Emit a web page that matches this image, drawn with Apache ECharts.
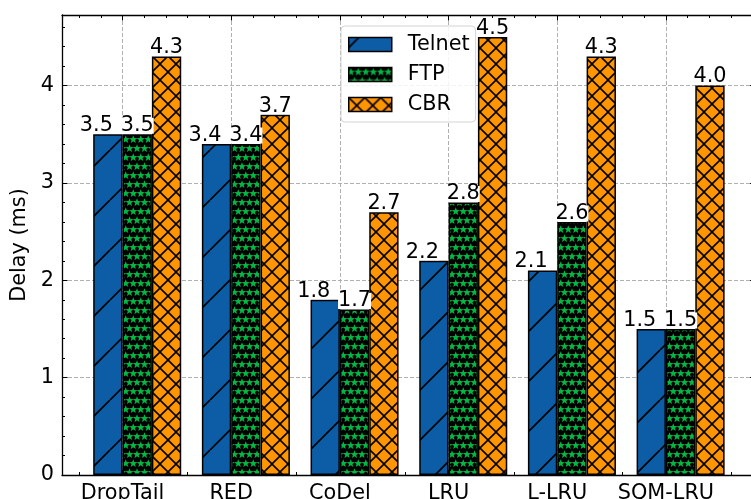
<!DOCTYPE html>
<html>
<head>
<meta charset="utf-8">
<script src="https://cdn.jsdelivr.net/npm/echarts@6/dist/echarts.min.js"></script>
<style>
  html, body { margin: 0; padding: 0; background: #ffffff; }
  #chart { width: 751px; height: 499px; }
</style>
</head>
<body>
<div id="chart"></div>
<script>
// Queue disciplines on the x axis and mean delay per traffic type (ms)
const categories = ['DropTail', 'RED', 'CoDel', 'LRU', 'L-LRU', 'SQM-LRU'];
const seriesNames = ['Telnet', 'FTP', 'CBR'];
const telnet = [3.5, 3.4, 1.8, 2.2, 2.1, 1.5];
const ftp    = [3.5, 3.4, 1.7, 2.8, 2.6, 1.5];
const cbr    = [4.3, 3.7, 2.7, 4.5, 4.3, 4.0];
const yTicks = [0, 1, 2, 3, 4];

const FONT = 'DejaVu Sans';
const FS = 20.8;

// ---- hatch fills built on small canvases --------------------------------
function tile(w, h, draw) {
  const c = document.createElement('canvas');
  c.width = w; c.height = h;
  draw(c.getContext('2d'), w, h);
  return c;
}
// single forward diagonal
const hatchSlash = tile(50, 50, (g, w, h) => {
  g.fillStyle = '#0C5DA5'; g.fillRect(0, 0, w, h);
  g.strokeStyle = '#000'; g.lineWidth = 1.7;
  [10, 60, 110].forEach(c => { g.beginPath(); g.moveTo(c, 0); g.lineTo(c - 50, 50); g.stroke(); });
});
// cross hatch
const hatchCross = tile(16, 16, (g, w, h) => {
  g.fillStyle = '#FF9500'; g.fillRect(0, 0, w, h);
  g.strokeStyle = '#000'; g.lineWidth = 1.6;
  for (let k = -1; k <= 1; k++) {
    g.beginPath(); g.moveTo(k * w, 0); g.lineTo(k * w + w, h); g.stroke();
    g.beginPath(); g.moveTo(k * w + w, 0); g.lineTo(k * w, h); g.stroke();
  }
});
// star field
function star(g, cx, cy, R, r) {
  g.beginPath();
  for (let i = 0; i < 10; i++) {
    const a = -Math.PI / 2 + i * Math.PI / 5;
    const rad = i % 2 ? r : R;
    const x = cx + rad * Math.cos(a), y = cy + rad * Math.sin(a);
    i ? g.lineTo(x, y) : g.moveTo(x, y);
  }
  g.closePath(); g.fill();
}
const hatchStar = tile(15, 18, (g, w, h) => {
  g.fillStyle = '#000'; g.fillRect(0, 0, w, h);
  g.fillStyle = '#00B945';
  for (let row = -1; row <= 2; row++) {
    const y = row * 9 + 4.5;
    const off = (row % 2 === 0) ? 0 : 3.75;
    for (let col = -1; col <= 2; col++) {
      star(g, col * 7.5 + off + 2, y, 4.3, 1.8);
    }
  }
});
const fills = [hatchSlash, hatchStar, hatchCross];

// ---- tick positions ------------------------------------------------------
const xMajor = categories.map((_, i) => i);
const xMinor = [];
for (let k = -2; k <= 29; k++) xMinor.push(+(k * 0.2).toFixed(1));
const yMinor = [];
for (let k = 0; k <= 23; k++) yMinor.push(+(k * 0.2).toFixed(1));

const X_MIN = -0.557, X_MAX = 5.825, Y_MAX = 4.725;
const tickLine = { color: '#000', width: 1 };
const gridLine = { show: true, lineStyle: { color: '#b0b0b0', width: 1, type: [4, 2] } };

function xAxisDef(pos, values, len, withLabel, withLine, withSplit) {
  return {
    type: 'value', position: pos, min: X_MIN, max: X_MAX,
    axisLine: { show: withLine, onZero: false, lineStyle: { color: '#000', width: 1.3 } },
    axisTick: { show: true, inside: true, length: len, customValues: values, lineStyle: tickLine },
    axisLabel: withLabel ? {
      show: true, customValues: xMajor, margin: 8, color: '#000',
      fontFamily: FONT, fontSize: FS, formatter: v => categories[Math.round(v)]
    } : { show: false },
    splitLine: withSplit ? gridLine : { show: false }
  };
}
function yAxisDef(pos, values, len, withLabel, withLine, withSplit) {
  return {
    type: 'value', position: pos, min: 0, max: Y_MAX,
    axisLine: { show: withLine, onZero: false, lineStyle: { color: '#000', width: 1.3 } },
    axisTick: { show: true, inside: true, length: len, customValues: values, lineStyle: tickLine },
    axisLabel: withLabel ? {
      show: true, customValues: yTicks, margin: 8, color: '#000',
      fontFamily: FONT, fontSize: FS, formatter: v => String(v)
    } : { show: false },
    splitLine: withSplit ? gridLine : { show: false }
  };
}

const yMain = yAxisDef('left', yTicks, 5.5, true, true, true);
yMain.name = 'Delay (ms)';
yMain.nameLocation = 'middle';
yMain.nameGap = 20;
yMain.nameTextStyle = { fontFamily: FONT, fontSize: FS, color: '#000' };

function valueLabel(shiftLeft) {
  const l = {
    show: true, position: 'top', distance: 0.5,
    fontFamily: FONT, fontSize: FS, color: '#000', lineHeight: 16,
    backgroundColor: '#ffffff', padding: [0, 0, 0, 0],
    formatter: p => p.value[1].toFixed(1)
  };
  if (shiftLeft) l.offset = [-11.5, 0];
  return l;
}

function barSeries(name, values, idx) {
  return {
    name, type: 'bar', xAxisIndex: 0, yAxisIndex: 0,
    barWidth: '27%', barGap: '0%',
    data: values.map((v, i) => [i, v]),
    itemStyle: { color: { image: fills[idx], repeat: 'repeat' }, borderColor: '#000', borderWidth: 1.5 },
    label: valueLabel(idx === 0),
    emphasis: { disabled: true }
  };
}

const chart = echarts.init(document.getElementById('chart'), null, { renderer: 'canvas' });
chart.setOption({
  animation: false,
  backgroundColor: '#ffffff',
  textStyle: { fontFamily: FONT },
  grid: { left: 62, top: 15, width: 693.6, height: 460, containLabel: false, outerBoundsMode: 'none' },
  legend: {
    data: seriesNames, orient: 'vertical', left: 341, top: 26,
    icon: 'rect', itemWidth: 43, itemHeight: 14, itemGap: 9,
    padding: [8, 6, 7, 7],
    backgroundColor: 'rgba(255,255,255,0.85)', borderColor: '#d4d4d4', borderWidth: 1, borderRadius: 4,
    textStyle: { fontFamily: FONT, fontSize: FS, color: '#000', padding: [0, 0, 0, 11] },
    itemStyle: { borderColor: '#000', borderWidth: 1.5 },
    selectedMode: false
  },
  xAxis: [
    xAxisDef('bottom', xMajor, 5.5, true, true, true),
    xAxisDef('bottom', xMinor, 3, false, false, false),
    xAxisDef('top', xMajor, 5.5, false, true, false),
    xAxisDef('top', xMinor, 3, false, false, false)
  ],
  yAxis: [
    yMain,
    yAxisDef('left', yMinor, 3, false, false, false),
    yAxisDef('right', yTicks, 5.5, false, true, false),
    yAxisDef('right', yMinor, 3, false, false, false)
  ],
  series: [
    // empty leading slot so each group's tick sits between the first two bars
    { name: 'slot', type: 'bar', xAxisIndex: 0, yAxisIndex: 0, barWidth: '27%', barGap: '0%', data: [] },
    barSeries('Telnet', telnet, 0),
    barSeries('FTP', ftp, 1),
    barSeries('CBR', cbr, 2)
  ]
});
</script>
</body>
</html>
